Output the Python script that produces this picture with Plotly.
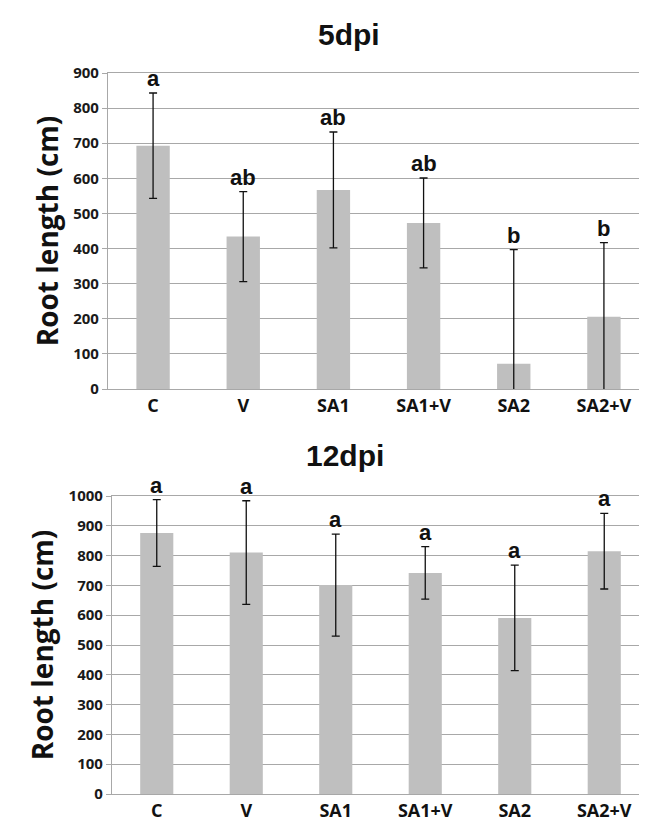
import plotly.graph_objects as go
from plotly.subplots import make_subplots

categories = ["C", "V", "SA1", "SA1+V", "SA2", "SA2+V"]

# 5 dpi
mean_5dpi = [693, 434, 567, 473, 72, 206]
sd_5dpi = [150, 128, 165, 128, 325, 211]
letters_5dpi = ["a", "ab", "ab", "ab", "b", "b"]

# 12 dpi
mean_12dpi = [876, 810, 701, 742, 591, 815]
sd_12dpi = [112, 174, 171, 88, 177, 127]
letters_12dpi = ["a", "a", "a", "a", "a", "a"]

titles = ["5dpi", "12dpi"]
y_title = "Root length (cm)"

FONT = "Open Sans"
BAR = "#bfbfbf"
GRID = "#a8a8a8"

fig = make_subplots(rows=2, cols=1)

W, H = 647, 821
ml, mr, mt, mb = 100, 6, 65, 35
ph = H - mt - mb
pw = W - ml - mr

def py(px):
    return (H - mb - px) / ph

def pxx(px):
    return (px - ml) / pw

panels = [
    (mean_5dpi, sd_5dpi, letters_5dpi, 900, 1, [0.0, 1.0], [py(381), 1.0]),
    (mean_12dpi, sd_12dpi, letters_12dpi, 1000, 2, [pxx(104), 1.0], [0.0, py(488)]),
]

for means, sds, letters, ymax, row, xd, yd in panels:
    fig.add_trace(
        go.Bar(
            x=categories, y=means, width=0.37,
            marker=dict(color=BAR, line=dict(width=0)),
            error_y=dict(type="data", array=sds, visible=True,
                         color="#111111", thickness=1.3, width=4),
            showlegend=False, cliponaxis=True,
        ),
        row=row, col=1,
    )
    xa = "x" if row == 1 else "x2"
    ya = "y" if row == 1 else "y2"
    for c, m, s, l in zip(categories, means, sds, letters):
        fig.add_annotation(
            x=c, y=m + s, xref=xa, yref=ya, text=l, showarrow=False,
            yanchor="bottom", yshift=0,
            font=dict(family="Liberation Sans", size=22, color="#111111", weight="bold"),
        )
    fig.update_xaxes(
        row=row, col=1, domain=xd, showline=True, linecolor=GRID, linewidth=1.2,
        mirror=True, ticks="", showgrid=False,
        tickfont=dict(family=FONT, size=18, color="#111111", weight="bold"),
    )
    fig.update_yaxes(
        row=row, col=1, domain=yd, range=[0, ymax], dtick=100,
        showline=True, linecolor=GRID, linewidth=1.2, mirror=True,
        showgrid=True, gridcolor=GRID, gridwidth=1,
        ticks="outside", ticklen=5, tickcolor=GRID,
        tickfont=dict(family=FONT, size=15, color="#1a1a1a", weight="bold"),
        title=dict(text=y_title, standoff=6,
                   font=dict(family=FONT, size=28, color="#111111", weight="bold")),
    )

fig.add_annotation(x=pxx(341), y=py(26.5), xref="paper", yref="paper",
                   text=titles[0], showarrow=False, xanchor="center", yanchor="middle",
                   font=dict(family="Liberation Sans", size=30, color="#111111", weight="bold"))
fig.add_annotation(x=pxx(337), y=py(447), xref="paper", yref="paper",
                   text=titles[1], showarrow=False, xanchor="center", yanchor="middle",
                   font=dict(family="Liberation Sans", size=30, color="#111111", weight="bold"))

fig.update_layout(
    width=W, height=H,
    margin=dict(l=ml, r=mr, t=mt, b=mb),
    plot_bgcolor="white", paper_bgcolor="white",
)

fig.write_html("out.html")
